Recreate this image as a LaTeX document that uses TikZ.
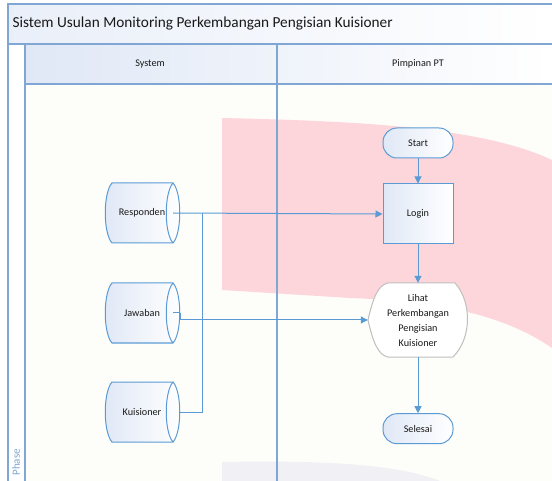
\documentclass[tikz,border=0pt]{standalone}
\usepackage{fontspec}
\setmainfont{Carlito}
\usetikzlibrary{positioning,calc,arrows.meta}
\definecolor{lanecol}{RGB}{128,166,212}
\definecolor{flowcol}{RGB}{91,155,213}
\definecolor{boxtint}{RGB}{224,232,246}
\definecolor{markpink}{RGB}{253,214,219}
\definecolor{markgrey}{RGB}{241,241,245}
\definecolor{paper}{RGB}{253,253,249}
\newcommand*{\fs}{\fontsize{10.2}{15}\selectfont}
% stored data shape: name, centre, label
\newcommand*{\datastore}[3]{%
  \coordinate (#1c) at (#2);
  \draw[storeline,left color=boxtint,right color=white]
    ($(#1c)+(-30,-30)$) -- ($(#1c)+(31,-30)$)
    .. controls ($(#1c)+(40,-20)$) and ($(#1c)+(40,20)$) .. ($(#1c)+(31,30)$)
    -- ($(#1c)+(-30,30)$)
    .. controls ($(#1c)+(-39,20)$) and ($(#1c)+(-39,-20)$) .. cycle;
  \draw[storeline] ($(#1c)+(31,-30)$)
    .. controls ($(#1c)+(22,-20)$) and ($(#1c)+(22,20)$) .. ($(#1c)+(31,30)$);
  \node[minimum width=76pt,minimum height=60pt] (#1) at (#1c) {#3};}

\begin{document}
\begin{tikzpicture}[x=1pt,y=-1pt,
  every node/.style={font=\fs,text=black!90},
  term/.style={draw=flowcol,line width=1pt,rounded corners=14pt,
    minimum width=70pt,minimum height=30pt,left color=boxtint,right color=white},
  proc/.style={draw=flowcol,line width=1pt,minimum width=70pt,minimum height=60pt,
    left color=boxtint,right color=white},
  storeline/.style={draw=flowcol,line width=1pt},
  flow/.style={flowcol,line width=1pt,-{Triangle[length=7pt,width=7pt]}},
  link/.style={flowcol,line width=1pt},
  lane/.style={lanecol,line width=1.5pt}]
\useasboundingbox (0,0) rectangle (552,481);
% Paper, title band and lane headers
\fill[paper] (8,44) rectangle (552,481);
\shade[left color=boxtint!70,right color=white] (8,4) rectangle (552,44);
\shade[left color=boxtint,right color=white] (25,44) rectangle (552,84);
\fill[white] (8,44) rectangle (25,481);
% Watermark behind the lanes
\fill[markpink] (222,118) .. controls (350,121) and (480,126) .. (552,160)
  -- (552,348) .. controls (500,312) and (430,301) .. (350,298) -- (222,290) -- cycle;
\fill[markgrey] (222,481) -- (222,462) .. controls (330,460) and (400,465) .. (440,481) -- cycle;
% Pool and lane lines
\draw[lane] (552,4) -- (8,4) -- (8,481);
\draw[lane] (8,44) -- (552,44);
\draw[lane] (25,84) -- (552,84);
\draw[lane] (25,44) -- (25,481);
\draw[lane] (277,44) -- (277,481);
\node[anchor=west,font=\fontsize{15.3}{18}\selectfont] (title) at (9,24)
  {Sistem Usulan Monitoring Perkembangan Pengisian Kuisioner};
\node (syslane) at (150,64) {System};
\node (ptlane) at (418,64) {Pimpinan PT};
\node[rotate=90,anchor=west,text=lanecol,font=\fontsize{11}{13}\selectfont] (phase) at (16,479) {Phase};
% Data stores in the System lane
\datastore{responden}{142,213}{Responden}
\datastore{jawaban}{142,313}{Jawaban}
\datastore{kuisioner}{142,412}{Kuisioner}
% Flow in the Pimpinan PT lane
\node[term] (start) at (418,143) {Start};
\node[proc,below=25pt of start] (login) {Login};
\coordinate (lc) at (418,320);
\draw[draw=black!25,fill=white,line width=1pt]
  ($(lc)+(-50,0)$) .. controls ($(lc)+(-45,-22)$) and ($(lc)+(-40,-35)$) .. ($(lc)+(-30,-37)$)
  -- ($(lc)+(37,-37)$) .. controls ($(lc)+(54,-18)$) and ($(lc)+(54,18)$) .. ($(lc)+(35,37)$)
  -- ($(lc)+(-30,37)$) .. controls ($(lc)+(-40,35)$) and ($(lc)+(-45,22)$) .. cycle;
\node[minimum width=100pt,minimum height=74pt,align=center] (lihat) at (lc)
  {Lihat\\Perkembangan\\Pengisian\\Kuisioner};
\node[term,below=56pt of lihat] (selesai) {Selesai};
% Connectors
\draw[flow] (start) -- (login);
\draw[flow] (login) -- (lihat);
\draw[flow] (lihat) -- (selesai);
\coordinate (jn) at ($(responden.east)+(22,0)$);
\draw[flow] ([xshift=-7pt]responden.east) -- (login.west);
\draw[link] ([xshift=-7pt]jawaban.east) -- (jawaban.east);
\draw[flow] (jawaban.east) |- (lihat.west);
\draw[link] (kuisioner.east) -| (jn);
\end{tikzpicture}
\end{document}
